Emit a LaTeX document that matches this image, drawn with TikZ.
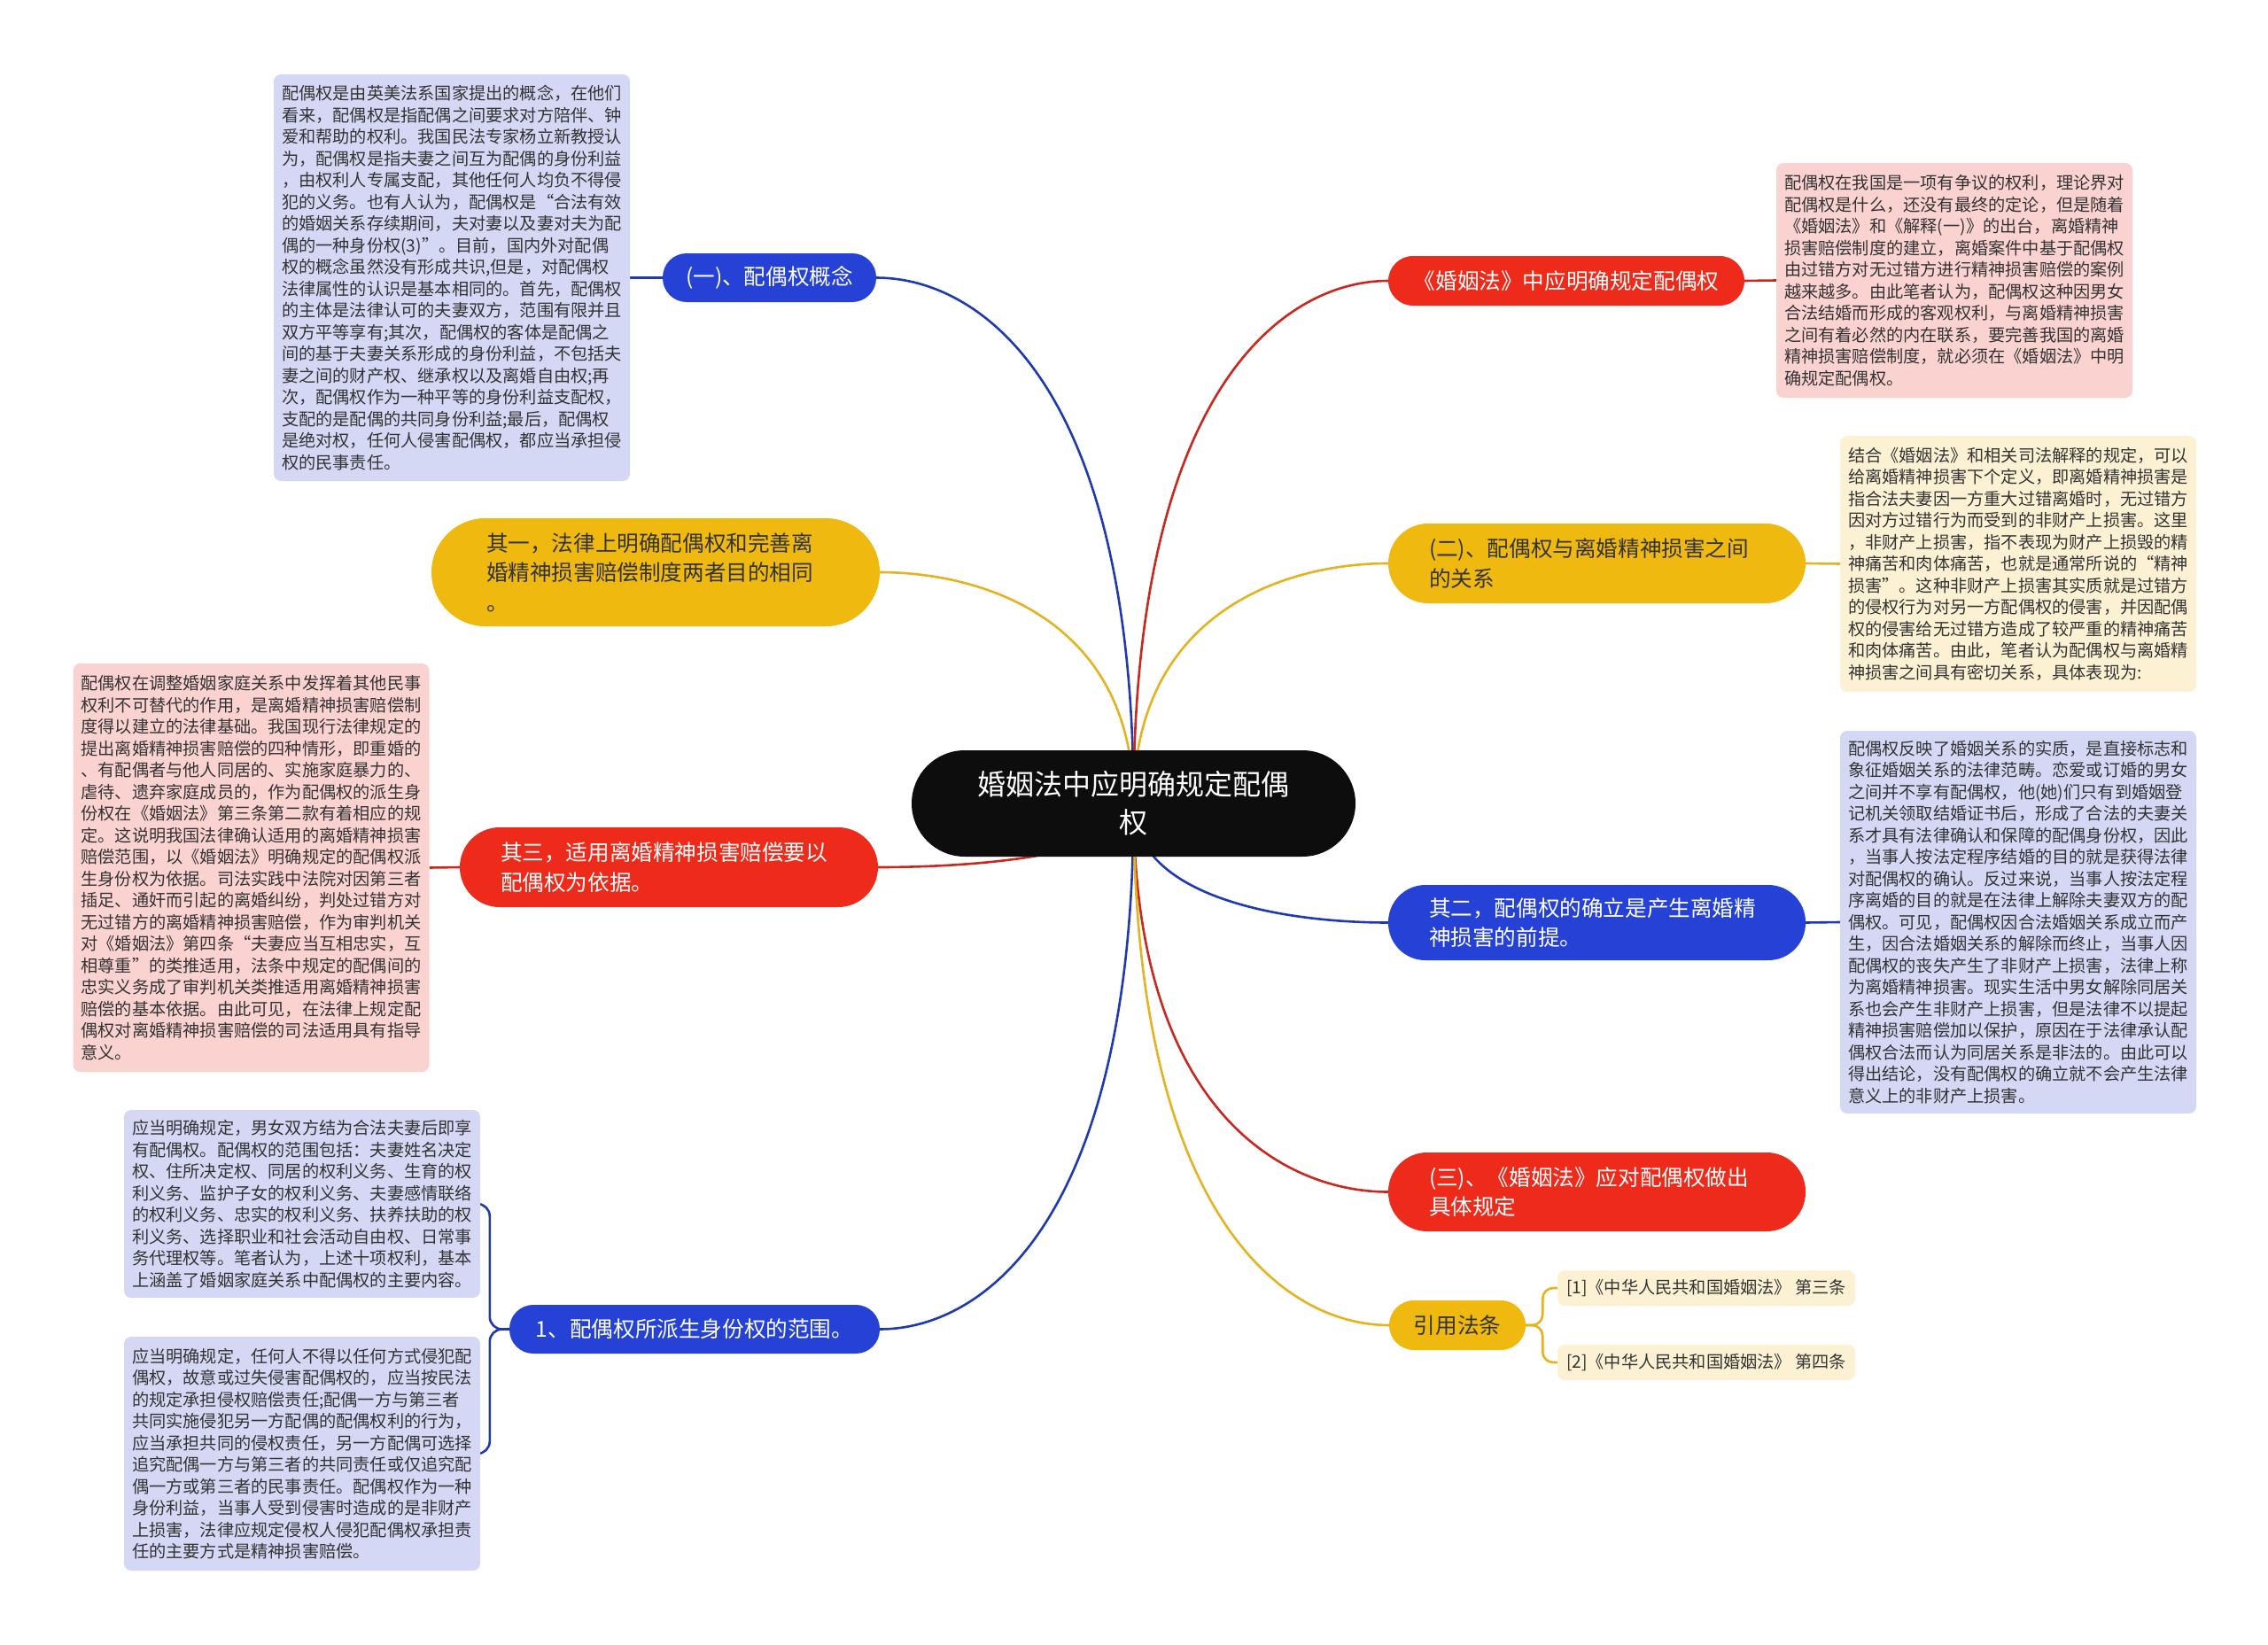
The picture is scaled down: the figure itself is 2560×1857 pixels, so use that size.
\documentclass[tikz,border=0pt]{standalone}
\usepackage{fontspec}
\newfontfamily\cjkfont{Noto Sans CJK SC}
\usetikzlibrary{calc,backgrounds}

\definecolor{mmblue}{HTML}{2541D6}
\definecolor{mmblueline}{HTML}{1F3AAF}
\definecolor{mmred}{HTML}{EE2A1B}
\definecolor{mmredline}{HTML}{C8281E}
\definecolor{mmyellow}{HTML}{F0B90F}
\definecolor{mmyellowline}{HTML}{E3B321}
\definecolor{lavender}{HTML}{D5D8F5}
\definecolor{pinkbox}{HTML}{FAD3D1}
\definecolor{creambox}{HTML}{FCF1D3}
\definecolor{txtgray}{HTML}{333333}

\newcommand\boxfont{\cjkfont\fontsize{19.2}{24.5}\selectfont}
\newcommand\topicfont{\cjkfont\fontsize{24.6}{33.5}\selectfont}
\newcommand\rootfont{\cjkfont\fontsize{32}{43}\selectfont}

\tikzset{
  link/.style={line width=2.6pt,
    to path={.. controls ($(\tikztostart)!0.8!(\tikztostart |- \tikztotarget)$)
      and ($(\tikztotarget)!0.4!(\tikztostart |- \tikztotarget)$) .. (\tikztotarget)}},
  bluelink/.style={draw=mmblueline,line width=2.6pt},
  redlink/.style={draw=mmredline,line width=2.6pt},
  yellowlink/.style={draw=mmyellowline,line width=2.6pt},
  topic/.style={font=\topicfont,inner xsep=0pt,inner ysep=0pt,align=left},
  bluetopic/.style={topic,fill=mmblue,text=white},
  redtopic/.style={topic,fill=mmred,text=white},
  yellowtopic/.style={topic,fill=mmyellow,text=txtgray},
  notebox/.style={font=\boxfont,text=txtgray,align=left,text width=384,
    inner xsep=9pt,inner ysep=0pt,rounded corners=8},
  lavbox/.style={notebox,fill=lavender},
  pinknote/.style={notebox,fill=pinkbox},
  creamnote/.style={notebox,fill=creambox},
  citebox/.style={font=\boxfont,text=txtgray,fill=creambox,rounded corners=8,
    minimum width=336,minimum height=40,inner sep=0pt}
}

\begin{document}
\begin{tikzpicture}[x=1pt,y=-1pt]
\useasboundingbox (0,0) rectangle (2560,1857);

% root
\node[fill=black!95,text=white,font=\rootfont,align=center,minimum width=501,
  minimum height=120,rounded corners=60,inner sep=0pt] (root) at (1279.5,907)
  {婚姻法中应明确规定配偶\\权};

% left side
\node[bluetopic,minimum width=241,minimum height=55,rounded corners=27] (concept) at (868.5,313.5) {(一)、配偶权概念};
\node[lavbox,minimum height=459] (conceptnote) at (510,313.5) {配偶权是由英美法系国家提出的概念，在他们\\看来，配偶权是指配偶之间要求对方陪伴、钟\\爱和帮助的权利。我国民法专家杨立新教授认\\为，配偶权是指夫妻之间互为配偶的身份利益\\，由权利人专属支配，其他任何人均负不得侵\\犯的义务。也有人认为，配偶权是“合法有效\\的婚姻关系存续期间，夫对妻以及妻对夫为配\\偶的一种身份权(3)”。目前，国内外对配偶\\权的概念虽然没有形成共识,但是，对配偶权\\法律属性的认识是基本相同的。首先，配偶权\\的主体是法律认可的夫妻双方，范围有限并且\\双方平等享有;其次，配偶权的客体是配偶之\\间的基于夫妻关系形成的身份利益，不包括夫\\妻之间的财产权、继承权以及离婚自由权;再\\次，配偶权作为一种平等的身份利益支配权，\\支配的是配偶的共同身份利益;最后，配偶权\\是绝对权，任何人侵害配偶权，都应当承担侵\\权的民事责任。};

\node[yellowtopic,text width=382,inner xsep=62pt,minimum height=122,rounded corners=61] (aim) at (740,646) {其一，法律上明确配偶权和完善离\\婚精神损害赔偿制度两者目的相同\\。};

\node[redtopic,text width=380,inner xsep=46pt,minimum height=90,rounded corners=45] (basis) at (755,979) {其三，适用离婚精神损害赔偿要以\\配偶权为依据。};
\node[pinknote,minimum height=461] (basisnote) at (283.5,979.5) {配偶权在调整婚姻家庭关系中发挥着其他民事\\权利不可替代的作用，是离婚精神损害赔偿制\\度得以建立的法律基础。我国现行法律规定的\\提出离婚精神损害赔偿的四种情形，即重婚的\\、有配偶者与他人同居的、实施家庭暴力的、\\虐待、遗弃家庭成员的，作为配偶权的派生身\\份权在《婚姻法》第三条第二款有着相应的规\\定。这说明我国法律确认适用的离婚精神损害\\赔偿范围，以《婚姻法》明确规定的配偶权派\\生身份权为依据。司法实践中法院对因第三者\\插足、通奸而引起的离婚纠纷，判处过错方对\\无过错方的离婚精神损害赔偿，作为审判机关\\对《婚姻法》第四条“夫妻应当互相忠实，互\\相尊重”的类推适用，法条中规定的配偶间的\\忠实义务成了审判机关类推适用离婚精神损害\\赔偿的基本依据。由此可见，在法律上规定配\\偶权对离婚精神损害赔偿的司法适用具有指导\\意义。};

\node[bluetopic,minimum width=418,minimum height=55,rounded corners=27] (scope) at (784,1500.5) {1、配偶权所派生身份权的范围。};
\node[lavbox,minimum height=212] (scopeA) at (341,1359) {应当明确规定，男女双方结为合法夫妻后即享\\有配偶权。配偶权的范围包括：夫妻姓名决定\\权、住所决定权、同居的权利义务、生育的权\\利义务、监护子女的权利义务、夫妻感情联络\\的权利义务、忠实的权利义务、扶养扶助的权\\利义务、选择职业和社会活动自由权、日常事\\务代理权等。笔者认为，上述十项权利，基本\\上涵盖了婚姻家庭关系中配偶权的主要内容。};
\node[lavbox,minimum height=264] (scopeB) at (341,1641) {应当明确规定，任何人不得以任何方式侵犯配\\偶权，故意或过失侵害配偶权的，应当按民法\\的规定承担侵权赔偿责任;配偶一方与第三者\\共同实施侵犯另一方配偶的配偶权利的行为，\\应当承担共同的侵权责任，另一方配偶可选择\\追究配偶一方与第三者的共同责任或仅追究配\\偶一方或第三者的民事责任。配偶权作为一种\\身份利益，当事人受到侵害时造成的是非财产\\上损害，法律应规定侵权人侵犯配偶权承担责\\任的主要方式是精神损害赔偿。};

% right side
\node[redtopic,minimum width=402,minimum height=56,rounded corners=28] (law) at (1768,317) {《婚姻法》中应明确规定配偶权};
\node[pinknote,minimum height=265] (lawnote) at (2206,316.5) {配偶权在我国是一项有争议的权利，理论界对\\配偶权是什么，还没有最终的定论，但是随着\\《婚姻法》和《解释(一)》的出台，离婚精神\\损害赔偿制度的建立，离婚案件中基于配偶权\\由过错方对无过错方进行精神损害赔偿的案例\\越来越多。由此笔者认为，配偶权这种因男女\\合法结婚而形成的客观权利，与离婚精神损害\\之间有着必然的内在联系，要完善我国的离婚\\精神损害赔偿制度，就必须在《婚姻法》中明\\确规定配偶权。};

\node[yellowtopic,text width=379,inner xsep=46pt,minimum height=90,rounded corners=45] (relation) at (1802.5,636) {(二)、配偶权与离婚精神损害之间\\的关系};
\node[creamnote,minimum height=289] (relationnote) at (2278,636.5) {结合《婚姻法》和相关司法解释的规定，可以\\给离婚精神损害下个定义，即离婚精神损害是\\指合法夫妻因一方重大过错离婚时，无过错方\\因对方过错行为而受到的非财产上损害。这里\\，非财产上损害，指不表现为财产上损毁的精\\神痛苦和肉体痛苦，也就是通常所说的“精神\\损害”。这种非财产上损害其实质就是过错方\\的侵权行为对另一方配偶权的侵害，并因配偶\\权的侵害给无过错方造成了较严重的精神痛苦\\和肉体痛苦。由此，笔者认为配偶权与离婚精\\神损害之间具有密切关系，具体表现为:};

\node[bluetopic,text width=379,inner xsep=46pt,minimum height=85,rounded corners=42] (premise) at (1802.5,1041.5) {其二，配偶权的确立是产生离婚精\\神损害的前提。};
\node[lavbox,minimum height=432] (premisenote) at (2278,1041) {配偶权反映了婚姻关系的实质，是直接标志和\\象征婚姻关系的法律范畴。恋爱或订婚的男女\\之间并不享有配偶权，他(她)们只有到婚姻登\\记机关领取结婚证书后，形成了合法的夫妻关\\系才具有法律确认和保障的配偶身份权，因此\\，当事人按法定程序结婚的目的就是获得法律\\对配偶权的确认。反过来说，当事人按法定程\\序离婚的目的就是在法律上解除夫妻双方的配\\偶权。可见，配偶权因合法婚姻关系成立而产\\生，因合法婚姻关系的解除而终止，当事人因\\配偶权的丧失产生了非财产上损害，法律上称\\为离婚精神损害。现实生活中男女解除同居关\\系也会产生非财产上损害，但是法律不以提起\\精神损害赔偿加以保护，原因在于法律承认配\\偶权合法而认为同居关系是非法的。由此可以\\得出结论，没有配偶权的确立就不会产生法律\\意义上的非财产上损害。};

\node[redtopic,text width=379,inner xsep=46pt,minimum height=89,rounded corners=44] (rule) at (1802.5,1345.5) {(三)、《婚姻法》应对配偶权做出\\具体规定};

\node[yellowtopic,align=center,minimum width=154,minimum height=56,rounded corners=28] (cite) at (1645,1496) {引用法条};
\node[citebox] (citeA) at (1926,1454) {[1]《中华人民共和国婚姻法》 第三条};
\node[citebox] (citeB) at (1926,1538) {[2]《中华人民共和国婚姻法》 第四条};

% connectors
\begin{pgfonlayer}{background}
\fill[white] (0,0) rectangle (2560,1857);
\draw[bluelink,link] (root.center) to (concept.east);
\draw[yellowlink,link] (root.center) to (aim.east);
\draw[redlink,link] (root.center) to (basis.east);
\draw[bluelink,link] (root.center) to (scope.east);
\draw[redlink,link] (root.center) to (law.west);
\draw[yellowlink,link] (root.center) to (relation.west);
\draw[bluelink,link] (root.center) to (premise.west);
\draw[redlink,link] (root.center) to (rule.west);
\draw[yellowlink,link] (root.center) to (cite.west);

\draw[bluelink] (concept.west) -- (conceptnote.east);
\draw[redlink] (basis.west) -- (basisnote.east);
\draw[bluelink,rounded corners=14] (scope.west) -- ++(-22,0) |- (scopeA.east);
\draw[bluelink,rounded corners=14] (scope.west) -- ++(-22,0) |- (scopeB.east);
\draw[redlink] (law.east) -- (lawnote.west);
\draw[yellowlink] (relation.east) -- (relationnote.west);
\draw[bluelink] (premise.east) -- (premisenote.west);
\draw[yellowlink,rounded corners=12] (cite.east) -- ++(19,0) |- (citeA.west);
\draw[yellowlink,rounded corners=12] (cite.east) -- ++(19,0) |- (citeB.west);
\end{pgfonlayer}
\end{tikzpicture}
\end{document}
